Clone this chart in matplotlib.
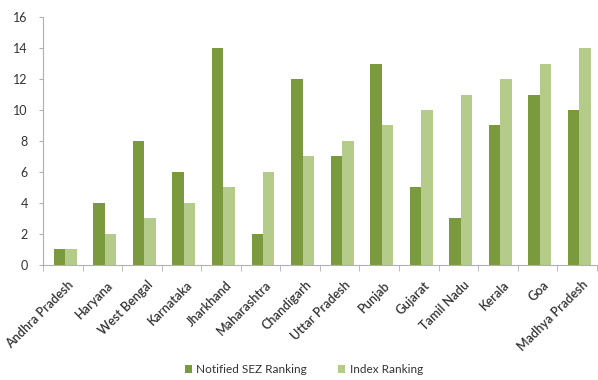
import matplotlib.pyplot as plt
import numpy as np

plt.rcParams["font.family"] = ["Lato", "DejaVu Sans"]

states = ["Andhra Pradesh", "Haryana", "West Bengal", "Karnataka", "Jharkhand",
          "Maharashtra", "Chandigarh", "Uttar Pradesh", "Punjab", "Gujarat",
          "Tamil Nadu", "Kerala", "Goa", "Madhya Pradesh"]
sezRanking = [1, 4, 8, 6, 14, 2, 12, 7, 13, 5, 3, 9, 11, 10]
indexRanking = [1, 2, 3, 4, 5, 6, 7, 8, 9, 10, 11, 12, 13, 14]

darkGreen = "#7b9a3e"
lightGreen = "#b4cb89"
axisGrey = "#b0b0b0"
textGrey = "#333333"

fig = plt.figure(figsize=(5.98, 3.8), dpi=100)
ax = fig.add_axes([0.072, 0.303, 0.926, 0.652])

x = np.arange(len(states))
w = 0.29
ax.bar(x - w / 2 + 0.06, sezRanking, width=w, color=darkGreen, label="Notified SEZ Ranking")
ax.bar(x + w / 2 + 0.06, indexRanking, width=w, color=lightGreen, label="Index Ranking")

ax.set_xlim(-0.5, len(states) - 0.5)
ax.set_ylim(0, 16)
ax.set_yticks(range(0, 17, 2))
ax.set_xticks(x + 0.12)
ax.set_xticklabels(states, rotation=45, ha="right", rotation_mode="anchor", fontweight="semibold")
ax.set_xticks(np.arange(-0.5, len(states), 1), minor=True)
ax.tick_params(axis="x", which="major", length=0, pad=10, labelsize=9, colors=textGrey)
ax.tick_params(axis="x", which="minor", length=4, color=axisGrey)
ax.tick_params(axis="y", length=3, color=axisGrey, labelsize=9, colors=textGrey, pad=8)

for side in ("top", "right"):
    ax.spines[side].set_visible(False)
for side in ("left", "bottom"):
    ax.spines[side].set_color(axisGrey)

fig.legend(loc="center", bbox_to_anchor=(0.508, 0.027), ncol=2, frameon=False,
           fontsize=8.5, handlelength=0.6, handleheight=0.6, columnspacing=2.6,
           handletextpad=0.4, labelcolor=textGrey)

fig.savefig("out.png", dpi=100)
